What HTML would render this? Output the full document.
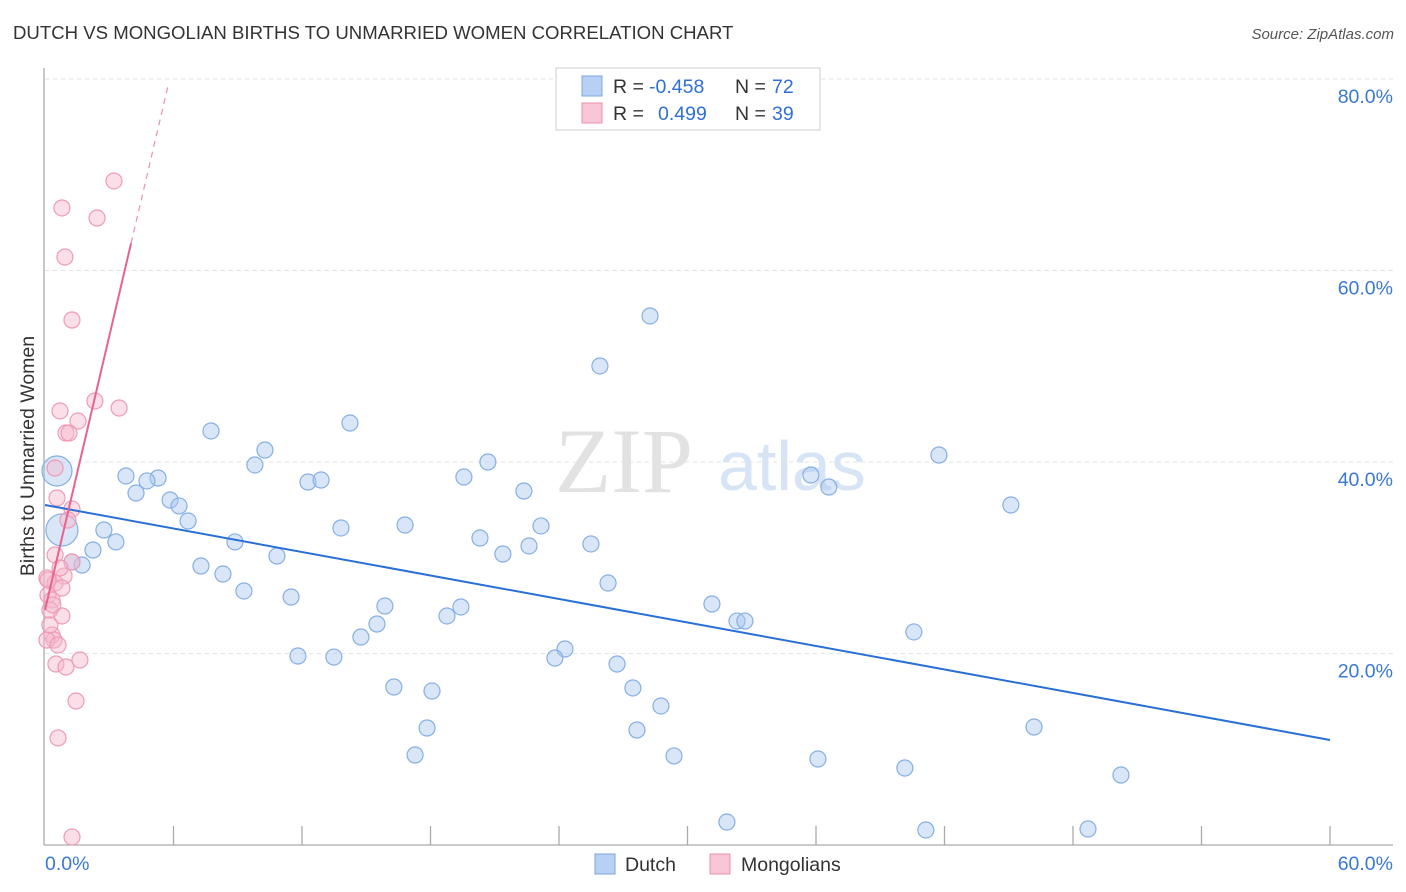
<!DOCTYPE html>
<html><head><meta charset="utf-8">
<style>
body{margin:0;background:#fff;font-family:"Liberation Sans",sans-serif;}
svg{display:block}
</style></head>
<body>
<svg id="chart" width="1406" height="892" xmlns="http://www.w3.org/2000/svg">
<text x="13" y="39" font-size="18.6" fill="#333" font-family="Liberation Sans, sans-serif">DUTCH VS MONGOLIAN BIRTHS TO UNMARRIED WOMEN CORRELATION CHART</text>
<text x="1394" y="39" font-size="15" fill="#555" text-anchor="end" font-style="italic">Source: ZipAtlas.com</text>
<g>
<text x="555" y="492" font-size="92" fill="#e2e2e2" font-family="Liberation Serif, serif">ZIP</text>
<text x="718" y="490" font-size="70" fill="#d6e4f5" font-family="Liberation Sans, sans-serif">atlas</text>
</g>
<g id="grid"></g>
<g id="axes"></g>
<g id="marks"></g>
<text transform="translate(34,456) rotate(-90)" font-size="19.5" fill="#333" text-anchor="middle">Births to Unmarried Women</text>
<g>
<rect x="556" y="68" width="264" height="62" fill="#fff" stroke="#ccc"/>
<rect x="582" y="76" width="20" height="20" fill="#b7d0f3" stroke="#7ca7e0"/>
<rect x="582" y="103" width="20" height="20" fill="#f8c6d6" stroke="#ec8fae"/>
<text x="613" y="93" font-size="19.5" fill="#333">R =</text>
<text x="649" y="93" font-size="19.5" fill="#2f6fd6">-0.458</text>
<text x="735" y="93" font-size="19.5" fill="#333">N =</text>
<text x="772" y="93" font-size="19.5" fill="#2f6fd6">72</text>
<text x="613" y="120" font-size="19.5" fill="#333">R =</text>
<text x="658" y="120" font-size="19.5" fill="#2f6fd6">0.499</text>
<text x="735" y="120" font-size="19.5" fill="#333">N =</text>
<text x="772" y="120" font-size="19.5" fill="#2f6fd6">39</text>
</g>
<g>
<rect x="595" y="854" width="20" height="20" fill="#b7d0f3" stroke="#7ca7e0"/>
<text x="625" y="871" font-size="19.5" fill="#333">Dutch</text>
<rect x="710" y="854" width="20" height="20" fill="#f8c6d6" stroke="#ec8fae"/>
<text x="741" y="871" font-size="19.5" fill="#333">Mongolians</text>
</g>
</svg>
<script>
const xTicks=[0,6,12,18,24,30,36,42,48,54,60];
const yTicks=[20,40,60,80];
const yTickLabels=["20.0%","40.0%","60.0%","80.0%"];
const dutchX=[28.25,25.91,14.24,7.75,10.27,9.80,41.74,20.68,19.56,3.78,5.28,4.76,12.28,12.89,35.76,36.60,4.25,22.36,5.84,6.26,45.10,6.68,16.81,13.82,23.16,2.75,20.31,3.31,8.87,22.60,25.49,2.24,21.38,10.83,1.73,1.26,7.28,8.31,26.29,9.29,11.49,31.14,15.87,19.42,18.77,32.31,32.68,15.50,14.75,40.57,24.28,23.81,11.81,13.49,26.71,16.29,18.07,27.45,28.76,17.84,27.64,46.18,17.28,29.37,36.09,40.15,50.24,31.84,41.13,48.70,0.56,0.79];
const dutchY=[55.25,50.03,44.07,43.24,41.25,39.69,40.73,40.00,38.43,38.54,38.33,38.02,37.91,38.12,38.64,37.39,36.76,36.97,36.03,35.41,35.51,33.84,33.42,33.11,33.32,32.90,32.06,31.65,31.65,31.23,31.44,30.81,30.39,30.18,29.24,29.56,29.14,28.30,27.36,26.53,25.90,25.17,24.96,24.86,23.92,23.39,23.39,23.08,21.72,22.25,20.47,19.53,19.74,19.63,18.90,16.50,16.08,16.40,14.52,12.22,12.01,12.32,9.40,9.30,8.98,8.04,7.31,2.40,1.57,1.67,39.06,32.90];
const dutchR=[8,8,8,8,8,8,8,8,8,8,8,8,8,8,8,8,8,8,8,8,8,8,8,8,8,8,8,8,8,8,8,8,8,8,8,8,8,8,8,8,8,8,8,8,8,8,8,8,8,8,8,8,8,8,8,8,8,8,8,8,8,8,8,8,8,8,8,8,8,8,15,16];
const mongX=[3.22,0.79,2.43,0.93,1.26,2.33,3.46,0.70,1.54,0.98,1.12,0.47,0.56,1.26,1.07,1.26,0.89,0.09,0.47,0.79,0.14,0.33,0.23,0.79,0.33,0.42,0.09,0.61,1.63,0.51,0.98,1.45,0.61,1.26,0.47,0.14,0.37,0.23,0.70];
const mongY=[69.35,66.53,65.48,61.41,54.83,46.37,45.64,45.33,44.28,43.03,43.03,39.37,36.24,35.09,33.94,29.56,28.09,27.89,27.36,26.84,26.11,25.59,24.54,23.92,21.93,21.41,21.41,20.89,19.32,18.90,18.59,15.04,11.18,0.84,30.29,27.68,25.07,22.98,28.93];
const dutchTrend=[35.51,10.97];
const mongTrend=[24.54,9.53];
const NS="http://www.w3.org/2000/svg";
const X0=45,X1=1330,Y0=845,YPER=191.5/20;
const sx=v=>X0+(v/60)*(X1-X0);
const sy=v=>Y0-v*YPER;
function mk(tag,attrs,parent){const e=document.createElementNS(NS,tag);for(const k in attrs)e.setAttribute(k,attrs[k]);parent.appendChild(e);return e;}
const grid=document.getElementById('grid'),axes=document.getElementById('axes'),marks=document.getElementById('marks');
yTicks.forEach((t,i)=>{
 const l=mk('line',{x1:X0,x2:1393,y1:sy(t),y2:sy(t),stroke:'#e3e3e3','stroke-dasharray':'4,4'},grid);
 
 
 const tx=mk('text',{x:1393,y:sy(t)+24,'font-size':19.5,fill:'#3a78d6','text-anchor':'end'},axes);
 tx.textContent=yTickLabels[i];
 
 
});
const ya=mk('line',{x1:44,x2:44,y1:68,y2:Y0,stroke:'#aaa','stroke-width':1.3},axes);


const xa=mk('line',{x1:44,x2:1393,y1:Y0,y2:Y0,stroke:'#aaa','stroke-width':1.3},axes);


xTicks.forEach((t,i)=>{if(i===0)return;
 const l=mk('line',{x1:sx(t),x2:sx(t),y1:826,y2:Y0,stroke:'#aaa','stroke-width':1.3},axes);
 
 
});
const xl0=mk('text',{x:45,y:870,'font-size':19.5,fill:'#3a78d6'},axes);xl0.textContent='0.0%';


const xl1=mk('text',{x:1393,y:870,'font-size':19.5,fill:'#3a78d6','text-anchor':'end'},axes);xl1.textContent='60.0%';


dutchX.forEach((v,i)=>{
 const c=mk('circle',{cx:sx(v),cy:sy(dutchY[i]),r:dutchR[i],fill:'rgba(169,200,239,0.45)',stroke:'#86afe3','stroke-width':1.2},marks);
 
 
});
mongX.forEach((v,i)=>{
 const c=mk('circle',{cx:sx(v),cy:sy(mongY[i]),r:8,fill:'rgba(245,184,203,0.45)',stroke:'#ee9bb7','stroke-width':1.2},marks);
 
 
});
const dl=mk('line',{x1:sx(0),y1:sy(dutchTrend[0]),x2:sx(60),y2:sy(dutchTrend[1]),stroke:'#2a6fd6','stroke-width':2},marks);


const mEnd=4.02,mDash=5.74;
const ml=mk('line',{x1:sx(0),y1:sy(mongTrend[0]),x2:sx(mEnd),y2:sy(mongTrend[0]+mongTrend[1]*mEnd),stroke:'#e8638f','stroke-width':2},marks);


const md=mk('line',{x1:sx(mEnd),y1:sy(mongTrend[0]+mongTrend[1]*mEnd),x2:sx(mDash),y2:sy(mongTrend[0]+mongTrend[1]*mDash),stroke:'#eb90ae','stroke-width':1.2,'stroke-dasharray':'6,5'},marks);


</script>
</body></html>
